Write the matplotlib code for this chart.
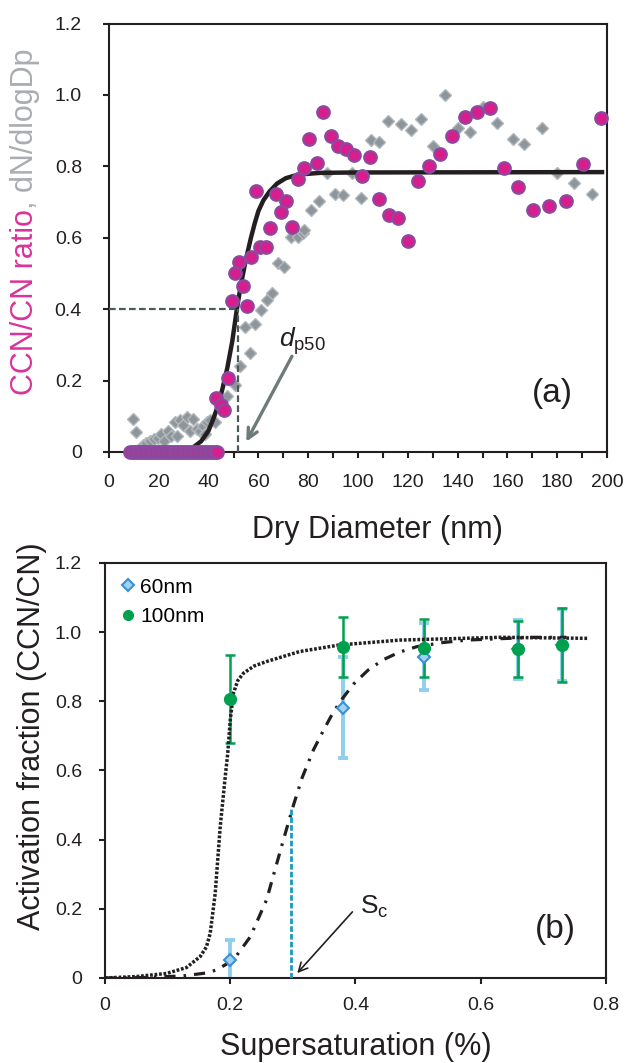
import numpy as np
import matplotlib
matplotlib.use("Agg")
import matplotlib.pyplot as plt
from matplotlib.lines import Line2D
from matplotlib.ticker import FuncFormatter

plt.rcParams['font.family'] = ['Liberation Sans', 'DejaVu Sans']
plt.rcParams['mathtext.fontset'] = 'custom'
plt.rcParams['mathtext.rm'] = 'Liberation Sans'
plt.rcParams['mathtext.it'] = 'Liberation Sans:italic'

# ---- panel (a): CCN/CN ratio vs dry diameter ----
band_x = [8.5, 9.5, 10.5, 11.5, 12.5, 13.5, 14.5, 15.5, 16.5, 17.5, 18.5, 19.5,
          20.5, 21.5, 22.5, 23.5, 24.5, 25.5, 26.5, 27.5, 28.5, 29.5, 30.5, 31.5,
          32.5, 33.5, 34.5, 35.5, 36.5, 37.5, 38.5, 39.5, 40.5, 41.5, 42.5, 43.5]
band_y = [0.0] * len(band_x)

ccn_x = [43.0, 44.8, 46.3, 47.7, 49.3, 55.4, 53.7, 50.6, 52.2, 57.0, 60.6, 62.9,
         64.7, 73.6, 59.0, 69.1, 71.1, 66.9, 75.8, 78.3, 83.4, 80.4, 86.1, 89.2,
         91.8, 95.2, 98.4, 101.7, 104.8, 108.4, 112.4, 116.2, 120.2, 124.2, 128.5,
         132.9, 137.9, 143.0, 147.9, 153.1, 158.6, 164.4, 170.4, 176.8, 183.4,
         190.4, 197.6]
ccn_y = [0.152, 0.133, 0.118, 0.208, 0.423, 0.410, 0.465, 0.502, 0.531, 0.545,
         0.573, 0.573, 0.628, 0.630, 0.732, 0.672, 0.704, 0.723, 0.766, 0.796,
         0.810, 0.876, 0.952, 0.886, 0.857, 0.850, 0.832, 0.773, 0.826, 0.708,
         0.663, 0.655, 0.592, 0.760, 0.801, 0.835, 0.886, 0.939, 0.952, 0.963,
         0.795, 0.741, 0.677, 0.688, 0.704, 0.806, 0.936]

dn_x = [9.5, 10.8, 13.5, 15.0, 16.5, 18.0, 19.8, 21.0, 22.0, 23.8, 24.8, 26.5,
        27.5, 28.5, 29.8, 31.4, 32.5, 33.9, 35.2, 36.5, 37.9, 38.6, 39.2, 40.6,
        42.6, 47.3, 50.6, 52.6, 56.6, 54.6, 58.6, 60.9, 63.3, 65.6, 68.0, 70.4,
        73.0, 75.8, 78.0, 78.3, 81.1, 84.3, 87.4, 90.8, 94.1, 97.5, 101.2, 105.1,
        108.4, 112.2, 117.1, 121.2, 125.2, 130.0, 134.9, 140.0, 145.0, 150.1,
        155.9, 162.1, 166.8, 173.9, 179.8, 186.9, 193.9]
dn_y = [0.092, 0.057, 0.020, 0.025, 0.030, 0.035, 0.040, 0.050, 0.030, 0.060,
        0.045, 0.085, 0.045, 0.090, 0.075, 0.099, 0.060, 0.093, 0.065, 0.060,
        0.072, 0.050, 0.085, 0.090, 0.085, 0.158, 0.188, 0.242, 0.276, 0.351,
        0.359, 0.398, 0.426, 0.444, 0.528, 0.517, 0.603, 0.601, 0.614, 0.622,
        0.678, 0.704, 0.782, 0.724, 0.721, 0.782, 0.712, 0.875, 0.867, 0.927,
        0.920, 0.902, 0.934, 0.857, 1.000, 0.907, 0.895, 0.967, 0.921, 0.877,
        0.863, 0.907, 0.782, 0.753, 0.724]

fit_x = [8.0, 25.0, 31.0, 34.0, 37.0, 40.0, 42.0, 43.5, 45.5, 47.5, 49.5, 51.3,
         53.0, 55.0, 57.0, 58.5, 60.0, 62.0, 64.5, 67.5, 71.0, 76.0, 85.0, 100.0,
         198.0]
fit_y = [0.0, 0.0, 0.005, 0.014, 0.030, 0.060, 0.095, 0.125, 0.175, 0.235, 0.310,
         0.398, 0.470, 0.540, 0.600, 0.640, 0.675, 0.705, 0.730, 0.752, 0.767,
         0.777, 0.782, 0.783, 0.784]

dp50 = 52.0
dp50_ratio = 0.40

# ---- panel (b): activation fraction vs supersaturation ----
ss = [0.20, 0.38, 0.51, 0.66, 0.73]
af_60 = [0.051, 0.782, 0.929, 0.950, 0.963]
err_60 = [0.060, 0.146, 0.097, 0.085, 0.105]
af_100 = [0.806, 0.958, 0.955, 0.950, 0.963]
err_100 = [0.127, 0.087, 0.084, 0.081, 0.106]

fit100_x = [0.0, 0.05, 0.098, 0.13, 0.152, 0.162, 0.168, 0.176, 0.184, 0.192,
            0.196, 0.200, 0.205, 0.212, 0.221, 0.238, 0.258, 0.311, 0.375,
            0.471, 0.631, 0.772]
fit100_y = [0.0, 0.004, 0.013, 0.030, 0.062, 0.090, 0.129, 0.245, 0.438, 0.582,
            0.650, 0.746, 0.823, 0.860, 0.881, 0.902, 0.915, 0.944, 0.963,
            0.977, 0.985, 0.982]

fit60_x = [0.0, 0.06, 0.125, 0.16, 0.178, 0.205, 0.232, 0.258, 0.285, 0.301,
           0.315, 0.333, 0.350, 0.365, 0.380, 0.397, 0.420, 0.444, 0.470, 0.498,
           0.540, 0.578, 0.684, 0.737]
fit60_y = [0.0, 0.001, 0.006, 0.014, 0.023, 0.052, 0.119, 0.226, 0.400, 0.500,
           0.580, 0.660, 0.720, 0.770, 0.810, 0.850, 0.890, 0.920, 0.942, 0.958,
           0.970, 0.977, 0.985, 0.985]

sc = 0.297
sc_frac = 0.495

magenta = '#d81e8c'
purple = '#8a4aa0'
grey_face = '#8e969b'
grey_edge = '#b3b8bc'
green = '#00a04f'
lblue = '#8ecfee'
dblue = '#3b8fd6'
ink = '#231f20'

fig = plt.figure(figsize=(6.36, 10.63), dpi=100)
ax1 = fig.add_axes([0.1714, 0.5748, 0.783, 0.403])
ax2 = fig.add_axes([0.1651, 0.0800, 0.7877, 0.3904])


def fmt(v, pos):
    return '0' if abs(v) < 1e-9 else '%.1f' % v


for ax in (ax1, ax2):
    for s in ax.spines.values():
        s.set_linewidth(1.5)
        s.set_color(ink)
    ax.tick_params(which='both', direction='out', length=4.5, width=1.5,
                   labelsize=14, colors=ink)
    ax.set_ylim(0, 1.2)
    ax.set_yticks(np.arange(0, 1.21, 0.2))
    ax.yaxis.set_major_formatter(FuncFormatter(fmt))

# panel (a)
ax1.plot(dn_x, dn_y, 'D', ms=6.3, mfc=grey_face, mec=grey_edge, mew=1, zorder=2)
ax1.plot(fit_x, fit_y, '-', color=ink, lw=3.2, zorder=3)
ax1.plot(band_x, band_y, 'o', ms=9, mfc=magenta, mec=purple, mew=1.6,
         zorder=4, clip_on=False)
ax1.plot(ccn_x, ccn_y, 'o', ms=9, mfc=magenta, mec=purple, mew=1.6, zorder=4,
         clip_on=False)
ax1.plot([0, dp50], [dp50_ratio, dp50_ratio], color='#4c5a5a', lw=1.6,
         ls=(0, (3, 1.5)), zorder=5)
ax1.plot([dp50, dp50], [0, dp50_ratio], color='#4c5a5a', lw=1.6,
         ls=(0, (3, 1.5)), zorder=5)
ax1.annotate('', xy=(54.6, 0.022), xytext=(74.0, 0.275),
             arrowprops=dict(arrowstyle='->', color='#6f7b7b', lw=2.4,
                             mutation_scale=18))
ax1.text(77.5, 0.31, r'$d_{\mathrm{p50}}$', fontsize=19, ha='center',
         va='center', color=ink)
ax1.text(178, 0.165, '(a)', fontsize=24, ha='center', va='center', color=ink)
ax1.set_xlim(0, 200)
ax1.set_xticks(np.arange(0, 201, 20))
ax1.set_xticks(np.arange(10, 200, 20), minor=True)
ax1.tick_params(axis='x', pad=11)
ax1.tick_params(axis='y', pad=15)
ax1.set_xlabel('Dry Diameter (nm)', fontsize=22, color=ink)
ax1.xaxis.set_label_coords(0.54, -0.148)

# panel (b)
ax2.errorbar(ss, af_60, yerr=err_60, fmt='none', ecolor=lblue, elinewidth=2.8,
             capsize=3.5, capthick=2.8, zorder=2)
ax2.errorbar(ss, af_100, yerr=err_100, fmt='none', ecolor=green, elinewidth=1.8,
             capsize=3.5, capthick=1.8, zorder=3)
ax2.plot(fit100_x, fit100_y, color=ink, lw=2.5, ls=(0, (0.8, 0.5)), zorder=4)
ax2.plot(fit60_x, fit60_y, color=ink, lw=2.3, ls=(0, (3.5, 2.5, 0.8, 2.5)),
         zorder=4)
ax2.plot(ss, af_60, 'D', ms=6, mfc='#9fd3f0', mec=dblue, mew=1.5, zorder=5)
ax2.plot(ss, af_100, 'o', ms=8.5, mfc=green, mec=green, zorder=6)
ax2.plot([sc, sc], [0, sc_frac], color='#1a9bbd', lw=2, ls=(0, (2, 0.8)),
         zorder=4)
ax2.annotate('', xy=(0.304, 0.008), xytext=(0.398, 0.197),
             arrowprops=dict(arrowstyle='->', color=ink, lw=1.2,
                             mutation_scale=16))
ax2.text(0.43, 0.205, r'S$_{\mathrm{c}}$', fontsize=19, ha='center',
         va='center', color=ink)
ax2.text(0.7186, 0.139, '(b)', fontsize=24, ha='center', va='center', color=ink)
handles = [Line2D([], [], ls='none', marker='D', ms=6, mfc='#9fd3f0', mec=dblue,
                  mew=1.5),
           Line2D([], [], ls='none', marker='o', ms=7, mfc=green, mec=green)]
ax2.legend(handles, ['60nm', '100nm'], loc='upper left', frameon=False,
           fontsize=15, handlelength=0.8, handletextpad=0.2, labelspacing=0.5,
           borderaxespad=0.3, bbox_to_anchor=(0.0, 1.0))
ax2.set_xlim(0, 0.8)
ax2.set_xticks([0, 0.2, 0.4, 0.6, 0.8])
ax2.xaxis.set_major_formatter(FuncFormatter(fmt))
ax2.tick_params(axis='x', pad=9)
ax2.tick_params(axis='y', pad=12)
ax2.set_xlabel('Supersaturation (%)', fontsize=22, color=ink)
ax2.xaxis.set_label_coords(0.5, -0.13)
fig.text(32.0 / 636, (1063 - 736) / 1063, 'Activation fraction (CCN/CN)',
         rotation=90, ha='center', va='center', fontsize=22, color=ink)

# two-coloured y label for panel (a)
fig.canvas.draw()
r = fig.canvas.get_renderer()
x0, y0 = 33.0 / 636, (1063 - 395) / 1063
t1 = fig.text(x0, y0, 'CCN/CN ratio', rotation=90, rotation_mode='anchor',
              ha='left', va='baseline', fontsize=22, color='#d9339a')
h1 = t1.get_window_extent(r).height / fig.bbox.height
fig.text(x0, y0 + h1, ', dN/dlogDp', rotation=90, rotation_mode='anchor',
         ha='left', va='baseline', fontsize=22, color='#a9adb1')

fig.savefig('out.png', dpi=100)
